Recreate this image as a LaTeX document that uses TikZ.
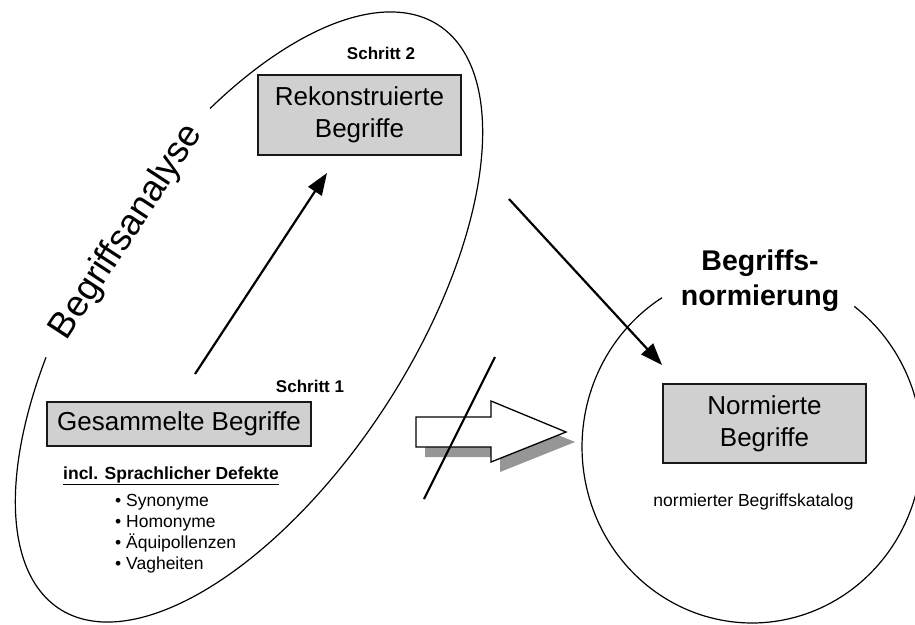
\documentclass[tikz,border=0pt]{standalone}
\usepackage{fontspec}
\setmainfont{Liberation Sans}
\usetikzlibrary{arrows.meta}
\definecolor{boxfill}{RGB}{208,208,208}
\definecolor{shadowgray}{RGB}{150,150,150}
\begin{document}
\begin{tikzpicture}[x=1pt,y=-1pt,
  boxnode/.style={draw=black!90, line width=1.5pt, fill=boxfill, inner sep=0pt, align=center, font=\fontsize{26}{32}\selectfont},
  steplbl/.style={inner sep=0pt, font=\fontsize{17}{21}\selectfont\bfseries},
  itemlbl/.style={inner sep=0pt, anchor=base west, font=\fontsize{17.5}{21}\selectfont},
  flow/.style={line width=2.2pt, -{Triangle[length=22pt,width=16pt]}},
  outline/.style={line width=1.2pt}]
\useasboundingbox (0,0) rectangle (915,624);
\clip (0,0) rectangle (915,624);

% left ellipse (Begriffsanalyse)
\draw[outline] plot[domain=114.5:423.8, samples=220, variable=\t]
  ({249 + 348*cos(\t)*0.5446 - 163*sin(\t)*0.8387}, {317 - 348*cos(\t)*0.8387 - 163*sin(\t)*0.5446});
% right ellipse (Begriffsnormierung)
\draw[outline] plot[domain=122:413, samples=160, variable=\t]
  ({752+170*cos(\t)}, {447-176*sin(\t)});

% boxes
\node[boxnode, minimum width=203pt, minimum height=80pt] (rek) at (359.5,115) {Rekonstruierte\\Begriffe};
\node[boxnode, minimum width=264pt, minimum height=44pt] (ges) at (179,424) {Gesammelte Begriffe};
\node[boxnode, minimum width=203pt, minimum height=79pt] (norm) at (764.5,423.5) {Normierte\\Begriffe};

% labels
\node[steplbl] (s2) at (381,53) {Schritt 2};
\node[steplbl] (s1) at (310,386) {Schritt 1};
\node[inner sep=0pt, anchor=base, font=\fontsize{17.5}{21}\selectfont\bfseries] (incl) at (171,479) {\underline{incl. Sprachlicher Defekte}};
\node[itemlbl] (i1) at (115,506) {\textbullet\ Synonyme};
\node[itemlbl] (i2) at (115,527) {\textbullet\ Homonyme};
\node[itemlbl] (i3) at (115,548) {\textbullet\ Äquipollenzen};
\node[itemlbl] (i4) at (115,569) {\textbullet\ Vagheiten};
\node[inner sep=0pt, font=\fontsize{17.5}{21}\selectfont] (kat) at (753.5,502) {normierter Begriffskatalog};
\node[inner sep=0pt, align=center, font=\fontsize{28.5}{35}\selectfont\bfseries] (bn) at (760,281) {Begriffs-\\normierung};
\node[inner sep=0pt, rotate=56.8, font=\fontsize{36.5}{42}\selectfont] (ba) at (127,232) {Begriffsanalyse};

% arrows
\coordinate (a1s) at (195,374);
\coordinate (a1e) at (327,173);
\coordinate (a2s) at (509,199);
\coordinate (a2e) at (662,365);
\draw[flow] (a1s) -- (a1e);
\draw[flow] (a2s) -- (a2e);

% block arrow with shadow
\fill[shadowgray] (425,427) -- (500,427) -- (500,411) -- (575,442) -- (500,472) -- (500,457) -- (425,457) -- cycle;
\draw[fill=white, line width=1.3pt, line join=miter] (416,417) -- (491,417) -- (491,401) -- (566,432) -- (491,462) -- (491,447) -- (416,447) -- cycle;
% slash
\coordinate (sl1) at (495,357);
\coordinate (sl2) at (424,499);
\draw[line width=2.2pt] (sl1) -- (sl2);
\end{tikzpicture}
\end{document}
